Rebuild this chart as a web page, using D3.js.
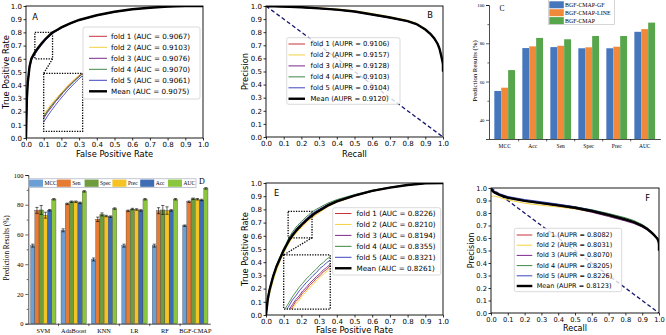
<!DOCTYPE html>
<html><head><meta charset="utf-8">
<script src="https://cdn.jsdelivr.net/npm/d3@7"></script>
<style>body{margin:0;background:#fff}svg{display:block}</style>
</head><body>
<svg id="c" width="666" height="335"></svg>
<script>
// ---------------- DATA ----------------
const foldNames = ["fold 1","fold 2","fold 3","fold 4","fold 5","Mean"];
const unitTicks = [0,0.1,0.2,0.3,0.4,0.5,0.6,0.7,0.8,0.9,1.0];

// Panel A ROC
const fprA = [0,0.005,0.01,0.02,0.03,0.04,0.05,0.06,0.07,0.08,0.09,0.10,0.11,0.12,0.13,0.14,0.15,0.18,0.2,0.25,0.3,0.4,0.5,0.6,0.7,0.8,0.9,1.0];
const fold1A = [0,0.29,0.41,0.54,0.60,0.627,0.651,0.671,0.690,0.705,0.722,0.737,0.753,0.765,0.779,0.790,0.802,0.823,0.839,0.870,0.895,0.931,0.956,0.975,0.987,0.995,0.999,1];
const fold2A = [0,0.32,0.44,0.555,0.612,0.637,0.659,0.677,0.695,0.711,0.726,0.741,0.755,0.769,0.781,0.793,0.805,0.826,0.842,0.872,0.897,0.932,0.958,0.976,0.988,0.995,0.999,1];
const fold3A = [0,0.30,0.42,0.54,0.598,0.622,0.645,0.666,0.683,0.702,0.716,0.734,0.748,0.762,0.776,0.787,0.800,0.821,0.837,0.869,0.894,0.930,0.956,0.975,0.987,0.995,0.999,1];
const fold4A = [0,0.31,0.43,0.545,0.604,0.629,0.652,0.670,0.688,0.704,0.720,0.735,0.749,0.762,0.775,0.787,0.798,0.821,0.837,0.868,0.893,0.929,0.955,0.975,0.987,0.995,0.999,1];
const fold5A = [0,0.28,0.40,0.525,0.585,0.610,0.632,0.653,0.672,0.690,0.707,0.723,0.739,0.753,0.767,0.780,0.792,0.816,0.833,0.866,0.891,0.928,0.954,0.974,0.987,0.995,0.999,1];
const meanA  = [0,0.30,0.42,0.54,0.60,0.625,0.648,0.668,0.686,0.703,0.719,0.735,0.750,0.763,0.776,0.788,0.800,0.822,0.838,0.869,0.894,0.930,0.956,0.975,0.987,0.995,0.999,1];
const aucA = [0.9067,0.9103,0.9076,0.9070,0.9061,0.9075];

// Panel B PR
const recB = [0,0.01,0.02,0.05,0.1,0.2,0.3,0.4,0.5,0.6,0.7,0.8,0.85,0.9,0.93,0.95,0.97,0.98,0.99,0.998,1.0,1.0];
const fold1B = [1.0,0.998,0.998,0.996,0.994,0.989,0.981,0.970,0.956,0.933,0.910,0.883,0.860,0.818,0.783,0.752,0.708,0.672,0.618,0.568,0.55,0.5];
const fold2B = [1.0,1.0,0.999,0.998,0.997,0.992,0.986,0.977,0.964,0.942,0.918,0.891,0.868,0.826,0.790,0.760,0.715,0.680,0.625,0.575,0.55,0.5];
const fold3B = [1.0,0.999,0.998,0.997,0.995,0.990,0.983,0.973,0.959,0.936,0.913,0.886,0.864,0.822,0.787,0.757,0.712,0.676,0.621,0.571,0.55,0.5];
const fold4B = [1.0,0.998,0.997,0.996,0.994,0.989,0.981,0.971,0.957,0.934,0.911,0.884,0.861,0.819,0.784,0.754,0.709,0.674,0.619,0.569,0.55,0.5];
const fold5B = [1.0,0.999,0.998,0.996,0.994,0.989,0.981,0.970,0.956,0.933,0.909,0.882,0.860,0.818,0.783,0.753,0.709,0.673,0.618,0.568,0.55,0.5];
const meanB  = [1.0,0.999,0.998,0.997,0.995,0.990,0.982,0.972,0.958,0.935,0.912,0.885,0.862,0.820,0.785,0.755,0.710,0.675,0.620,0.570,0.55,0.5];
const auprB = [0.9106,0.9157,0.9128,0.9103,0.9104,0.9120];

// Panel E ROC
const fprE = [0,0.01,0.02,0.04,0.06,0.08,0.10,0.11,0.12,0.13,0.14,0.15,0.16,0.17,0.18,0.19,0.20,0.21,0.22,0.23,0.24,0.25,0.26,0.27,0.28,0.30,0.35,0.4,0.5,0.6,0.7,0.8,0.9,1.0];
const fold1E = [0,0.11,0.18,0.285,0.362,0.424,0.482,0.503,0.531,0.552,0.576,0.592,0.613,0.626,0.645,0.656,0.673,0.684,0.699,0.708,0.723,0.731,0.745,0.752,0.765,0.782,0.824,0.856,0.902,0.938,0.964,0.985,0.997,1];
const fold2E = [0,0.10,0.16,0.26,0.34,0.41,0.47,0.495,0.522,0.545,0.566,0.585,0.604,0.618,0.636,0.648,0.664,0.676,0.690,0.701,0.714,0.724,0.736,0.744,0.757,0.775,0.820,0.853,0.900,0.937,0.963,0.984,0.997,1];
const fold3E = [0,0.13,0.20,0.30,0.375,0.435,0.492,0.514,0.538,0.562,0.582,0.601,0.620,0.634,0.652,0.664,0.680,0.692,0.705,0.716,0.730,0.739,0.751,0.760,0.771,0.786,0.826,0.857,0.902,0.938,0.964,0.985,0.997,1];
const fold4E = [0,0.13,0.20,0.30,0.38,0.445,0.505,0.532,0.560,0.588,0.608,0.630,0.648,0.666,0.680,0.696,0.708,0.722,0.733,0.748,0.757,0.770,0.778,0.790,0.798,0.812,0.848,0.874,0.912,0.945,0.968,0.987,0.998,1];
const fold5E = [0,0.12,0.19,0.29,0.372,0.433,0.494,0.522,0.548,0.575,0.596,0.618,0.634,0.652,0.667,0.682,0.695,0.709,0.720,0.735,0.745,0.757,0.766,0.777,0.786,0.801,0.838,0.866,0.908,0.942,0.966,0.986,0.997,1];
const meanE  = [0,0.12,0.19,0.29,0.37,0.43,0.49,0.515,0.54,0.565,0.585,0.605,0.622,0.638,0.654,0.668,0.682,0.695,0.708,0.72,0.732,0.743,0.754,0.764,0.774,0.79,0.83,0.86,0.905,0.94,0.965,0.985,0.997,1];
const aucE = [0.8226,0.8210,0.8194,0.8355,0.8321,0.8261];

// Panel F PR
const recF = [0,0.01,0.02,0.05,0.1,0.2,0.3,0.4,0.5,0.6,0.7,0.8,0.85,0.9,0.93,0.95,0.97,0.98,0.99,0.998,1.0,1.0];
const fold1F = [1.0,0.98,0.97,0.948,0.925,0.898,0.879,0.860,0.840,0.813,0.780,0.744,0.723,0.693,0.668,0.646,0.621,0.606,0.591,0.566,0.55,0.5];
const fold2F = [0.93,0.935,0.935,0.925,0.905,0.878,0.862,0.848,0.832,0.808,0.778,0.744,0.724,0.695,0.670,0.648,0.623,0.608,0.593,0.568,0.55,0.5];
const fold3F = [1.0,0.975,0.962,0.942,0.920,0.895,0.876,0.857,0.836,0.806,0.772,0.736,0.716,0.688,0.664,0.643,0.619,0.604,0.590,0.565,0.55,0.5];
const fold4F = [1.0,0.98,0.97,0.95,0.927,0.903,0.886,0.868,0.850,0.826,0.796,0.762,0.740,0.708,0.682,0.659,0.633,0.617,0.601,0.575,0.55,0.5];
const fold5F = [1.0,0.985,0.975,0.955,0.932,0.908,0.890,0.871,0.850,0.823,0.790,0.752,0.730,0.699,0.674,0.652,0.627,0.612,0.597,0.572,0.55,0.5];
const meanF  = [0.99,0.975,0.965,0.945,0.922,0.897,0.879,0.861,0.842,0.816,0.784,0.748,0.727,0.697,0.672,0.650,0.625,0.610,0.595,0.570,0.55,0.5];
const auprF = [0.8082,0.8031,0.8070,0.8205,0.8226,0.8123];

// Panel C bars
const categoriesC = ["MCC","Acc","Sen","Spec","Prec","AUC"];
const seriesC = ["BGF-CMAP-GF","BGF-CMAP-LINE","BGF-CMAP"];
const gfC   = [55.1,77.5,78.0,77.4,77.4,86.0];
const lineC = [56.8,78.4,78.7,77.9,78.2,87.4];
const cmapC = [66.0,82.8,82.1,83.8,83.8,90.8];
const yTicksC = [40,60,80,100];

// Panel D bars
const methodsD = ["SVM","AdaBoost","KNN","LR","RF","BGF-CMAP"];
const metricsD = ["MCC","Sen","Spec","Prec","Acc","AUC"];
const mccD  = [52.5,62.8,43.2,52.5,52.5,65.9];
const senD  = [76.2,80.6,70.2,75.9,76.0,82.0];
const specD = [76.5,82.0,73.5,77.1,76.5,84.0];
const precD = [73.0,82.0,72.4,76.8,76.1,83.7];
const accD  = [76.3,81.3,72.0,76.2,76.2,83.2];
const aucD  = [83.7,89.0,77.4,83.7,83.7,91.0];
const mccErrD  = [1.0,1.0,1.0,1.0,1.0,0.5];
const senErrD  = [2.0,0.5,1.5,0.5,2.0,0.5];
const specErrD = [3.0,0.5,1.0,0.5,3.0,0.5];
const precErrD = [2.0,0.5,0.5,0.5,2.5,0.5];
const accErrD  = [0.5,0.5,0.5,0.5,0.5,0.5];
const aucErrD  = [0.5,0.5,0.5,0.5,0.5,0.5];
const yTicksD = [0,20,40,60,80,100];

// ---------------- DRAW ----------------
const svg = d3.select("#c");
const DJ = "'DejaVu Sans', sans-serif";
const SERIF = "'Liberation Serif','Times New Roman',serif";
const foldColors = ["#c8323c","#f3d23f","#7a2a8c","#3e8a45","#3f45c0","#000000"];

function curvePanel(p) {
  const g = svg.append("g");
  const x = d3.scaleLinear().domain([0,1]).range([p.L,p.R]);
  const y = d3.scaleLinear().domain([0,1]).range([p.B,p.T]);
  const cid = "clip"+p.letter;
  svg.append("clipPath").attr("id",cid).append("rect")
    .attr("x",p.L).attr("y",p.T).attr("width",p.R-p.L).attr("height",p.B-p.T);
  const line = d3.line().x(d=>x(d[0])).y(d=>y(d[1]));
  const plot = g.append("g").attr("clip-path",`url(#${cid})`);
  if (p.diag) {
    plot.append("line").attr("x1",x(0)).attr("y1",y(1)).attr("x2",x(1)).attr("y2",y(0))
      .attr("stroke","#14146e").attr("stroke-width",1.3).attr("stroke-dasharray","4,2.5");
  }
  p.series.forEach((s,i)=>{
    plot.append("path").datum(p.xs.map((v,j)=>[v,s[j]])).attr("d",line)
      .attr("fill","none").attr("stroke",foldColors[i]).attr("stroke-width",i===5?2.4:1);
  });
  // axes
  const fmt = d3.format(".1f");
  const ax = g.append("g").attr("transform",`translate(0,${p.B})`)
    .call(d3.axisBottom(x).tickValues(unitTicks).tickFormat(fmt).tickSize(2.5).tickPadding(1.5));
  const ay = g.append("g").attr("transform",`translate(${p.L},0)`)
    .call(d3.axisLeft(y).tickValues(unitTicks).tickFormat(fmt).tickSize(2.5).tickPadding(1.5));
  [ax,ay].forEach(a=>{
    a.select(".domain").remove();
    a.selectAll("text").attr("font-family",DJ).attr("font-size",p.tickFont).attr("fill","#000");
    a.selectAll("line").attr("stroke","#000").attr("stroke-width",0.8);
  });
  g.append("rect").attr("x",p.L).attr("y",p.T).attr("width",p.R-p.L).attr("height",p.B-p.T)
    .attr("fill","none").attr("stroke","#000").attr("stroke-width",0.9);
  // titles
  g.append("text").attr("x",(p.L+p.R)/2).attr("y",p.xTitleY).attr("text-anchor","middle")
    .attr("dominant-baseline","central").attr("font-family",DJ).attr("font-size",p.titleFont).text(p.xTitle);
  g.append("text").attr("transform",`translate(${p.yTitleX},${(p.T+p.B)/2}) rotate(-90)`)
    .attr("text-anchor","middle").attr("dominant-baseline","central")
    .attr("font-family",DJ).attr("font-size",p.titleFont).text(p.yTitle);
  g.append("text").attr("x",p.letterPos[0]).attr("y",p.letterPos[1]).attr("text-anchor","middle")
    .attr("dominant-baseline","central").attr("font-family",DJ).attr("font-size",8.3).text(p.letter);
  // inset
  if (p.inset) {
    const [sx0,sx1,sy0,sy1] = p.inset.src, [dx0,dx1,dy0,dy1] = p.inset.dst;
    const ix = d3.scaleLinear().domain([sx0,sx1]).range([x(dx0),x(dx1)]);
    const iy = d3.scaleLinear().domain([sy0,sy1]).range([y(dy0),y(dy1)]);
    const icid = "iclip"+p.letter;
    svg.append("clipPath").attr("id",icid).append("rect")
      .attr("x",x(dx0)).attr("y",y(dy1)).attr("width",x(dx1)-x(dx0)).attr("height",y(dy0)-y(dy1));
    const il = d3.line().x(d=>ix(d[0])).y(d=>iy(d[1]));
    const ig = g.append("g").attr("clip-path",`url(#${icid})`);
    p.series.slice(0,5).forEach((s,i)=>{
      ig.append("path").datum(p.xs.map((v,j)=>[v,s[j]])).attr("d",il)
        .attr("fill","none").attr("stroke",foldColors[i]).attr("stroke-width",0.9);
    });
    const dot = sel=>sel.attr("fill","none").attr("stroke","#000").attr("stroke-width",1.3).attr("stroke-dasharray","1.3,1.3");
    g.append("rect").attr("x",x(sx0)).attr("y",y(sy1)).attr("width",x(sx1)-x(sx0)).attr("height",y(sy0)-y(sy1)).call(dot);
    g.append("rect").attr("x",x(dx0)).attr("y",y(dy1)).attr("width",x(dx1)-x(dx0)).attr("height",y(dy0)-y(dy1)).call(dot);
    g.append("line").attr("x1",x(sx1)).attr("y1",y(sy0)).attr("x2",x(dx0)).attr("y2",y(dy1)).call(dot);
  }
  // legend
  const lg = p.legend;
  g.append("rect").attr("x",lg.x0).attr("y",lg.y0).attr("width",lg.x1-lg.x0).attr("height",lg.y1-lg.y0)
    .attr("rx",2).attr("fill","#fff").attr("fill-opacity",0.8).attr("stroke","#d0d0d0").attr("stroke-width",0.8);
  p.labels.forEach((v,i)=>{
    const ry = lg.row0 + i*lg.step;
    g.append("line").attr("x1",lg.h0).attr("x2",lg.h1).attr("y1",ry).attr("y2",ry)
      .attr("stroke",foldColors[i]).attr("stroke-width",i===5?2.4:1);
    g.append("text").attr("x",lg.tx).attr("y",ry).attr("dominant-baseline","central")
      .attr("font-family",DJ).attr("font-size",lg.font)
      .text(`${foldNames[i]} (${p.metric} = ${v.toFixed(4)})`);
  });
}

curvePanel({L:26,R:203,T:6,B:138,xs:fprA,series:[fold1A,fold2A,fold3A,fold4A,fold5A,meanA],
  labels:aucA,metric:"AUC",xTitle:"False Positive Rate",yTitle:"True Positive Rate",
  xTitleY:154,yTitleX:5.5,tickFont:7,titleFont:8.3,letter:"A",letterPos:[35,17],
  inset:{src:[0.05,0.15,0.6,0.8],dst:[0.1,0.32,0.05,0.49]},
  legend:{x0:83,x1:200,y0:27,y1:99,row0:36.3,step:11,h0:89,h1:107,tx:111,font:7.2}});

curvePanel({L:266,R:443,T:6,B:137,xs:recB,series:[fold1B,fold2B,fold3B,fold4B,fold5B,meanB],
  labels:auprB,metric:"AUPR",xTitle:"Recall",yTitle:"Precision",diag:true,
  xTitleY:154,yTitleX:245,tickFont:7,titleFont:8.3,letter:"B",letterPos:[430,15],
  legend:{x0:286.7,x1:400,y0:37.7,y1:104.3,row0:44,step:10.95,h0:288.5,h1:305,tx:310.5,font:6.8}});

curvePanel({L:266,R:443,T:183,B:315,xs:fprE,series:[fold1E,fold2E,fold3E,fold4E,fold5E,meanE],
  labels:aucE,metric:"AUC",xTitle:"False Positive Rate",yTitle:"True Positive Rate",
  xTitleY:330,yTitleX:245,tickFont:7,titleFont:8.3,letter:"E",letterPos:[276.7,193],
  inset:{src:[0.125,0.26,0.585,0.785],dst:[0.1,0.363,0.045,0.455]},
  legend:{x0:332.7,x1:440.7,y0:207.7,y1:275,row0:213.5,step:10.95,h0:335,h1:351.5,tx:356.5,font:7.2}});

curvePanel({L:491,R:659,T:188,B:313,xs:recF,series:[fold1F,fold2F,fold3F,fold4F,fold5F,meanF],
  labels:auprF,metric:"AUPR",xTitle:"Recall",yTitle:"Precision",diag:true,
  xTitleY:328.5,yTitleX:471,tickFont:6.7,titleFont:8,letter:"F",letterPos:[647.7,197.5],
  legend:{x0:514.3,x1:621.7,y0:228.3,y1:291.7,row0:235,step:10.2,h0:516.7,h1:532.3,tx:536.7,font:6.5}});

// ---------- Panel C ----------
(function(){
  const g = svg.append("g");
  const colors = ["#4677bd","#f08a3a","#58a64c"];
  const vals = [gfC,lineC,cmapC];
  const x0 = d3.scaleBand().domain(categoriesC).range([489,660.4]).paddingInner(0.26).paddingOuter(0.19);
  const x1 = d3.scaleBand().domain(seriesC).range([0,x0.bandwidth()]);
  const y = d3.scaleLinear().domain([30,100]).range([139,5]);
  seriesC.forEach((s,si)=>{
    g.selectAll(null).data(categoriesC).enter().append("rect")
      .attr("x",c=>x0(c)+x1(s)).attr("width",x1.bandwidth())
      .attr("y",(c,ci)=>y(vals[si][ci])).attr("height",(c,ci)=>y(30)-y(vals[si][ci]))
      .attr("fill",colors[si]);
  });
  // y axis
  const ay = g.append("g").attr("transform","translate(489,0)")
    .call(d3.axisLeft(y).tickValues(yTicksC).tickSize(3).tickPadding(1.5));
  ay.select(".domain").attr("stroke","#000").attr("stroke-width",0.7);
  ay.selectAll("text").attr("font-family",SERIF).attr("font-size",4.8);
  ay.selectAll("line").attr("stroke-width",0.6);
  g.append("g").attr("transform","translate(489,0)")
    .call(d3.axisLeft(y).tickValues([50,70,90]).tickSize(1.6).tickFormat(""))
    .call(a=>{a.select(".domain").remove();a.selectAll("line").attr("stroke-width",0.6);});
  // x axis
  const ax = g.append("g").attr("transform",`translate(0,${y(30)})`)
    .call(d3.axisBottom(x0).tickSize(0).tickPadding(5));
  ax.select(".domain").attr("stroke","#000").attr("stroke-width",0.7);
  ax.selectAll("text").attr("font-family",SERIF).attr("font-size",5.5);
  const bounds = categoriesC.slice(1).map(c=>x0(c)-x0.step()*x0.paddingInner()/2);
  g.selectAll(null).data(bounds).enter().append("line")
    .attr("x1",d=>d).attr("x2",d=>d).attr("y1",y(30)).attr("y2",y(30)+2.5)
    .attr("stroke","#000").attr("stroke-width",0.6);
  g.append("text").attr("transform","translate(474.3,71) rotate(-90)").attr("text-anchor","middle")
    .attr("dominant-baseline","central").attr("font-family",SERIF).attr("font-size",6.8).text("Prediction Results (%)");
  g.append("text").attr("x",502).attr("y",8).attr("text-anchor","middle").attr("dominant-baseline","central")
    .attr("font-family",SERIF).attr("font-size",7.5).text("C");
  // legend
  g.append("rect").attr("x",548.3).attr("y",-0.5).attr("width",66).attr("height",25)
    .attr("fill","#fff").attr("stroke","#bbb").attr("stroke-width",0.6);
  seriesC.forEach((s,i)=>{
    const ry = 4.8 + i*7.9;
    g.append("rect").attr("x",549.3).attr("y",ry-3.5).attr("width",14.5).attr("height",7).attr("fill",colors[i]);
    g.append("text").attr("x",565).attr("y",ry).attr("dominant-baseline","central")
      .attr("font-family",SERIF).attr("font-size",5.9).text(s);
  });
})();

// ---------- Panel D ----------
(function(){
  const g = svg.append("g");
  const colors = ["#6c9fd6","#e57b35","#6e9c3e","#f6c325","#3e6db3","#8cc63f"];
  const vals = [mccD,senD,specD,precD,accD,aucD];
  const errs = [mccErrD,senErrD,specErrD,precErrD,accErrD,aucErrD];
  const x0 = d3.scaleBand().domain(methodsD).range([28.3,210.3]).paddingInner(0.165).paddingOuter(0.076);
  const x1 = d3.scaleBand().domain(metricsD).range([0,x0.bandwidth()]);
  const y = d3.scaleLinear().domain([0,100]).range([323.7,175]);
  metricsD.forEach((m,mi)=>{
    g.selectAll(null).data(methodsD).enter().append("rect")
      .attr("x",c=>x0(c)+x1(m)).attr("width",x1.bandwidth())
      .attr("y",(c,ci)=>y(vals[mi][ci])).attr("height",(c,ci)=>y(0)-y(vals[mi][ci]))
      .attr("fill",colors[mi]).attr("stroke","#333").attr("stroke-width",0.3);
  });
  metricsD.forEach((m,mi)=>{
    methodsD.forEach((c,ci)=>{
      const cx = x0(c)+x1(m)+x1.bandwidth()/2, v = vals[mi][ci], e = errs[mi][ci];
      g.append("line").attr("x1",cx).attr("x2",cx).attr("y1",y(v-e)).attr("y2",y(v+e)).attr("stroke","#000").attr("stroke-width",0.6);
      [v-e,v+e].forEach(t=>g.append("line").attr("x1",cx-1.6).attr("x2",cx+1.6).attr("y1",y(t)).attr("y2",y(t)).attr("stroke","#000").attr("stroke-width",0.6));
    });
  });
  const ay = g.append("g").attr("transform","translate(28.3,0)")
    .call(d3.axisLeft(y).tickValues(yTicksD).tickSize(3).tickPadding(1.8));
  ay.select(".domain").attr("stroke","#000").attr("stroke-width",0.7);
  ay.selectAll("text").attr("font-family",SERIF).attr("font-size",6.5);
  ay.selectAll("line").attr("stroke-width",0.6);
  g.append("g").attr("transform","translate(28.3,0)")
    .call(d3.axisLeft(y).tickValues([10,30,50,70,90]).tickSize(1.6).tickFormat(""))
    .call(a=>{a.select(".domain").remove();a.selectAll("line").attr("stroke-width",0.6);});
  const ax = g.append("g").attr("transform",`translate(0,${y(0)})`)
    .call(d3.axisBottom(x0).tickSize(0).tickPadding(5));
  ax.select(".domain").attr("stroke","#000").attr("stroke-width",0.7);
  ax.selectAll("text").attr("font-family",SERIF).attr("font-size",6.3);
  const bounds = methodsD.slice(1).map(c=>x0(c)-x0.step()*x0.paddingInner()/2);
  g.selectAll(null).data(bounds).enter().append("line")
    .attr("x1",d=>d).attr("x2",d=>d).attr("y1",y(0)).attr("y2",y(0)+2.5)
    .attr("stroke","#000").attr("stroke-width",0.6);
  g.append("text").attr("transform","translate(6.5,248) rotate(-90)").attr("text-anchor","middle")
    .attr("dominant-baseline","central").attr("font-family",SERIF).attr("font-size",7.2).text("Prediction Results (%)");
  g.append("text").attr("x",202).attr("y",181).attr("text-anchor","middle").attr("dominant-baseline","central")
    .attr("font-family",SERIF).attr("font-size",8).text("D");
  // legend
  g.append("rect").attr("x",28.5).attr("y",178.8).attr("width",167.5).attr("height",8.8)
    .attr("fill","#fff").attr("stroke","#9aa3b5").attr("stroke-width",0.6);
  metricsD.forEach((m,i)=>{
    const lx = 29 + i*27.8;
    g.append("rect").attr("x",lx).attr("y",179.6).attr("width",14).attr("height",7.2).attr("fill",colors[i]);
    g.append("text").attr("x",lx+15.5).attr("y",183.3).attr("dominant-baseline","central")
      .attr("font-family",SERIF).attr("font-size",5.5).text(m);
  });
})();
</script>
</body></html>
